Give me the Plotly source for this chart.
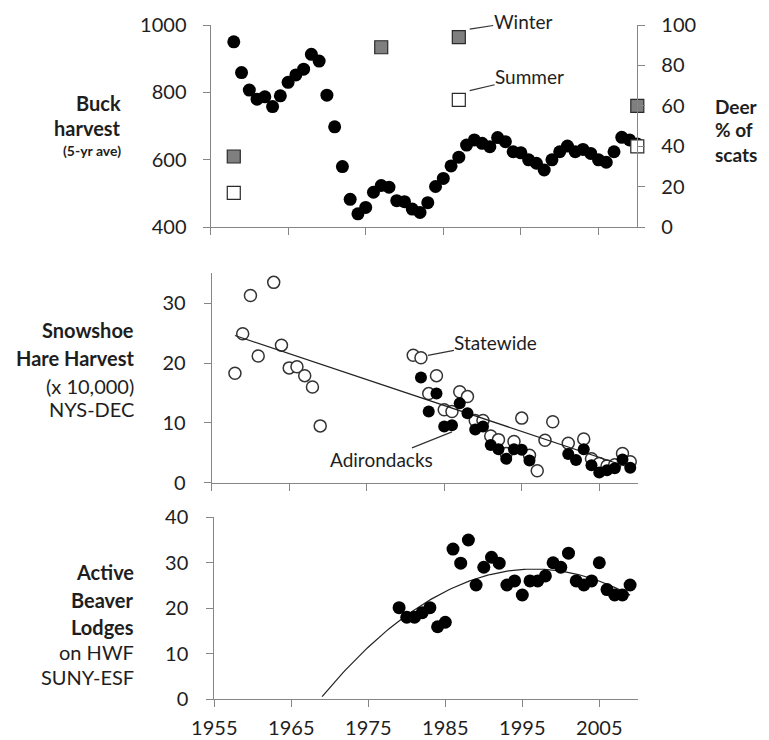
import numpy as np
import plotly.graph_objects as go

# page body has an 8px margin: the figure is placed at (8, 8) in the window
OX, OY = 8, 8
FW, FH = 761, 732

# ---------------- data ----------------
buck_years = list(range(1958, 2011))
buck_values = [950, 859, 807, 780, 787, 758, 790, 830, 852, 869, 913, 893, 792, 698, 580,
               483, 440, 459, 504, 524, 519, 479, 476, 454, 444, 473, 521, 545, 582, 608,
               644, 659, 649, 639, 666, 654, 624, 621, 600, 590, 570, 600, 624, 641, 624,
               631, 619, 600, 593, 624, 667, 659, 647]

winter_years = [1958, 1977, 1987, 2010]
winter_pct = [35, 89, 94, 60]
summer_years = [1958, 1987, 2010]
summer_pct = [17, 63, 40]

state_years = [1958, 1959, 1960, 1961, 1963, 1964, 1965, 1966, 1967, 1968, 1969,
               1981, 1982, 1983, 1984, 1985, 1986, 1987, 1988, 1989, 1990, 1991, 1992,
               1993, 1994, 1995, 1996, 1997, 1998, 1999, 2001, 2003, 2004, 2005, 2006,
               2007, 2008, 2009]
state_values = [18.3, 24.9, 31.3, 21.2, 33.5, 23.0, 19.2, 19.4, 17.9, 16.0, 9.5,
                21.3, 20.9, 14.9, 17.9, 12.2, 11.9, 15.2, 14.4, 10.4, 10.4, 7.8, 7.2,
                4.9, 6.9, 10.8, 4.6, 2.0, 7.1, 10.2, 6.6, 7.3, 4.0, 3.2, 2.8,
                3.0, 4.9, 3.5]

adk_years = [1982, 1983, 1984, 1985, 1986, 1987, 1988, 1989, 1990, 1991, 1992, 1993,
             1994, 1995, 1996, 2001, 2002, 2003, 2004, 2005, 2006, 2007, 2008, 2009]
adk_values = [17.6, 11.9, 14.9, 9.4, 9.6, 13.3, 11.6, 8.9, 9.4, 6.3, 5.6, 4.0,
              5.6, 5.5, 3.7, 4.8, 3.8, 5.6, 2.9, 1.7, 2.1, 2.4, 3.9, 2.5]

beaver_years = list(range(1979, 2010))
beaver_values = [20.1, 18.0, 18.0, 19.0, 20.1, 15.9, 16.9, 33.0, 29.9, 35.0, 25.1, 29.0,
                 31.2, 29.9, 25.1, 26.0, 22.9, 26.0, 26.0, 27.1, 30.0, 29.0, 32.1, 26.0,
                 25.1, 26.0, 30.0, 24.1, 22.9, 22.9, 25.1]
beaver_backcast_start = 1969

x_ticks = [1955, 1965, 1975, 1985, 1995, 2005]

# ---------------- trendlines (regressions of the data) ----------------
lin = np.polyfit(state_years, state_values, 1)
lin_x = np.array([min(state_years), max(state_years)])
lin_y = np.polyval(lin, lin_x)

quad = np.polyfit(np.array(beaver_years) - 1990, beaver_values, 2)
quad_x = np.linspace(beaver_backcast_start, max(beaver_years), 120)
quad_y = np.polyval(quad, quad_x - 1990)

# ---------------- figure ----------------
AX = '#868686'
TXT = '#1e1e1e'
FONT = 'Lato'
TICKF = dict(family=FONT, size=20, color=TXT)

fig = go.Figure()

fig.add_trace(go.Scatter(x=buck_years, y=buck_values, mode='markers', xaxis='x', yaxis='y',
                         marker=dict(symbol='circle', size=13, color='black'),
                         cliponaxis=False, showlegend=False))
fig.add_trace(go.Scatter(x=winter_years, y=winter_pct, mode='markers', xaxis='x', yaxis='y2',
                         marker=dict(symbol='square', size=13, color='#7f7f7f',
                                     line=dict(color='#2a2a2a', width=1.2)),
                         cliponaxis=False, showlegend=False))
fig.add_trace(go.Scatter(x=summer_years, y=summer_pct, mode='markers', xaxis='x', yaxis='y2',
                         marker=dict(symbol='square', size=13, color='white',
                                     line=dict(color='#2a2a2a', width=1.2)),
                         cliponaxis=False, showlegend=False))

fig.add_trace(go.Scatter(x=state_years, y=state_values, mode='markers', xaxis='x2', yaxis='y3',
                         marker=dict(symbol='circle', size=12, color='white',
                                     line=dict(color='#333333', width=1.5)),
                         cliponaxis=False, showlegend=False))
fig.add_trace(go.Scatter(x=lin_x, y=lin_y, mode='lines', xaxis='x2', yaxis='y3',
                         line=dict(color='#222222', width=1.2), showlegend=False))
fig.add_trace(go.Scatter(x=adk_years, y=adk_values, mode='markers', xaxis='x2', yaxis='y3',
                         marker=dict(symbol='circle', size=12, color='black'),
                         cliponaxis=False, showlegend=False))

fig.add_trace(go.Scatter(x=quad_x, y=quad_y, mode='lines', xaxis='x3', yaxis='y4',
                         line=dict(color='#222222', width=1.2), showlegend=False))
fig.add_trace(go.Scatter(x=beaver_years, y=beaver_values, mode='markers', xaxis='x3', yaxis='y4',
                         marker=dict(symbol='circle', size=13, color='black'),
                         cliponaxis=False, showlegend=False))


def px_x(p):
    return (p - OX) / FW


def px_y(p):
    return 1 - (p - OY) / FH


def dom_x(a, b):
    return [px_x(a), px_x(b)]


def dom_y(top, bottom):
    return [px_y(bottom), px_y(top)]


common = dict(showline=True, linecolor=AX, linewidth=1, ticks='outside', tickcolor=AX,
              ticklen=7, tickwidth=1, showgrid=False, zeroline=False, tickfont=TICKF,
              automargin=False)

fig.update_layout(
    template='none',
    width=FW, height=FH, autosize=False,
    margin=dict(l=0, r=0, t=0, b=0, pad=0),
    paper_bgcolor='white', plot_bgcolor='white',
    font=dict(family=FONT, color=TXT),
    xaxis=dict(domain=dom_x(210.5, 637.3), range=[1955, 2010], anchor='y',
               tickvals=x_ticks, showticklabels=False, **common),
    yaxis=dict(domain=dom_y(25, 227.3), range=[400, 1000], anchor='x',
               tickvals=[400, 600, 800, 1000], ticklabelstandoff=12, **common),
    yaxis2=dict(range=[0, 100], overlaying='y', side='right', anchor='x',
                tickvals=[0, 20, 40, 60, 80, 100], ticklabelstandoff=12, **common),
    xaxis2=dict(domain=dom_x(211.7, 638), range=[1955, 2010], anchor='y3',
                tickvals=x_ticks, showticklabels=False, **common),
    yaxis3=dict(domain=dom_y(273.4, 482.7), range=[0, 35], anchor='x2',
                tickvals=[0, 10, 20, 30], ticklabelstandoff=14, **common),
    xaxis3=dict(domain=dom_x(214.3, 637.8), range=[1955, 2010], anchor='y4',
                tickvals=x_ticks, ticklabelstandoff=4, **common),
    yaxis4=dict(domain=dom_y(517.3, 699), range=[0, 40], anchor='x3',
                tickvals=[0, 10, 20, 30, 40], ticklabelstandoff=14, **common),
)

ann = []


def label(text, xpx, ypx, anchor='right', size=20, bold=True):
    t = f'<b>{text}</b>' if bold else text
    ann.append(dict(text=t, x=px_x(xpx), y=px_y(ypx), xref='paper', yref='paper',
                    xanchor=anchor, yanchor='middle', showarrow=False,
                    font=dict(family=FONT, size=size, color=TXT)))


label('Buck', 123, 103)
label('harvest', 123, 128)
label('(5-yr ave)', 123, 151, size=14)
label('Deer', 713, 106, anchor='left', size=19)
label('% of', 713, 130, anchor='left', size=19)
label('scats', 713, 154, anchor='left', size=19)

label('Snowshoe', 136, 330)
label('Hare Harvest', 136, 358)
label('(x 10,000)', 136, 386, bold=False)
label('NYS-DEC', 136, 409, bold=False)

label('Active', 136, 572)
label('Beaver', 136, 600)
label('Lodges', 136, 627)
label('on HWF', 136, 652, bold=False)
label('SUNY-ESF', 136, 677, bold=False)


def callout(text, x, y, xr, yr, ax, ay):
    ann.append(dict(text=text, x=x, y=y, xref=xr, yref=yr, ax=ax, ay=ay,
                    axref='pixel', ayref='pixel', showarrow=True, arrowhead=0,
                    arrowwidth=1.2, arrowcolor='#333333', borderpad=0,
                    font=dict(family=FONT, size=19, color=TXT)))


callout('Winter', 1988.4, 98.0, 'x', 'y2', 53, -8)
callout('Summer', 1988.4, 67.6, 'x', 'y2', 60, -14)
callout('Statewide', 1982.9, 21.3, 'x2', 'y3', 68, -13)
callout('Adirondacks', 1986.0, 8.5, 'x2', 'y3', -70, 28)

fig.update_layout(annotations=ann)

fig.write_html('out.html')
